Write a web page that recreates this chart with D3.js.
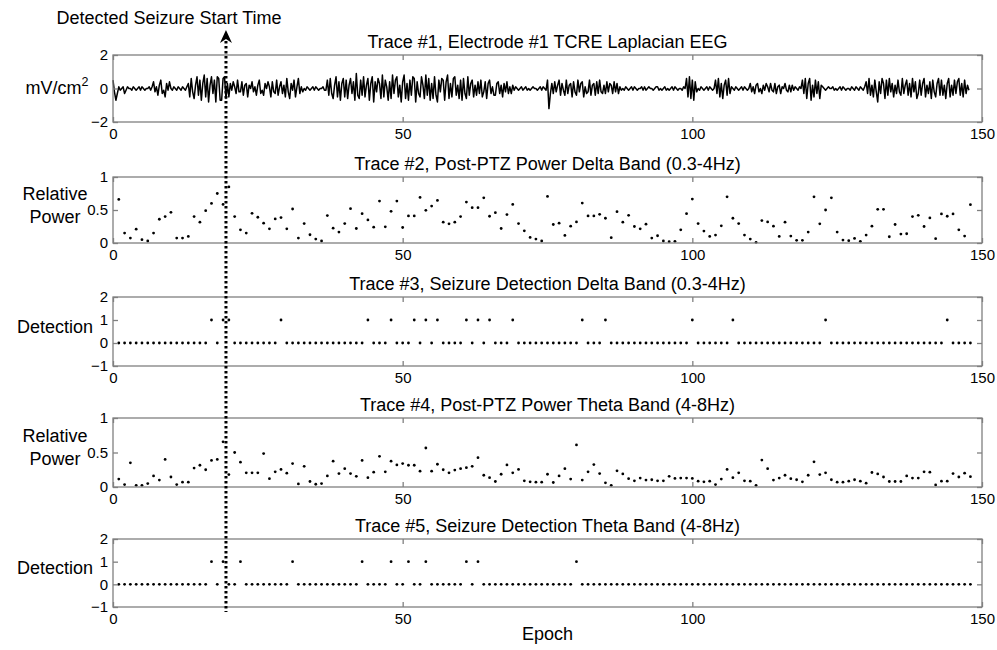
<!DOCTYPE html>
<html lang="en">

<head>
    <meta charset="UTF-8">
    <title>Seizure detection traces</title>
    <script src="https://d3js.org/d3.v7.min.js"></script>
    <style>
        body { margin: 0; background: #fff; }
        text { font-family: Arial, "Liberation Sans", sans-serif; fill: #000; }
    </style>
</head>

<body>
    <div id="chart"></div>
    <script>

        // x axis (epochs) and the detected onset
        const xDomain = [0, 150];
        const xTicks = [0, 50, 100, 150];
        const seizureStart = 19.5;

        // Trace #1: Laplacian EEG, 4 samples per epoch (mV/cm^2), epochs 0..147
        const eegValues = [
            0.5,-0.2,-0.7,-0.3, 0.1,-0.1,0.0,0.1, -0.3,-0.1,0.1,0.0, 0.0,-0.1,0.1,0.0, -0.1,0.0,0.1,-0.1,
            0.1,0.0,-0.1,0.0, 0.0,0.1,-0.1,0.1, 0.4,-0.2,0.1,-0.4, 0.2,0.5,-0.3,-0.1, -0.5,0.3,-0.1,0.4,
            0.0,-0.1,0.1,0.0, -0.1,0.1,0.0,-0.1, 0.1,0.0,-0.1,0.1, 0.3,-0.5,0.6,-0.2, -0.6,0.2,0.7,-0.4,
            0.5,-0.7,0.3,0.8, -0.5,0.6,-0.8,0.2, 0.7,-0.3,0.5,-0.8, 0.7,0.6,-0.7,-0.7, 0.6,0.7,-0.6,0.3,
            -0.5,0.3,-0.1,0.4, 0.1,-0.3,0.5,-0.2, -0.2,0.4,-0.4,0.2, 0.3,-0.5,0.2,0.0, 0.4,-0.2,0.1,-0.4,
            0.2,0.5,-0.3,-0.1, -0.4,0.3,0.0,0.4, 0.1,-0.5,0.4,-0.2, -0.3,0.5,-0.4,0.1, 0.4,-0.3,0.2,-0.5,
            0.6,-0.2,-0.6,0.3, -0.1,0.5,-0.5,0.1, 0.6,-0.3,0.1,-0.2, 0.0,-0.1,0.1,0.0, -0.1,0.0,0.1,-0.1,
            0.1,0.0,-0.1,0.0, 0.0,0.1,-0.1,-0.1, 0.5,-0.4,0.6,-0.3, -0.6,0.2,0.7,-0.5, 0.4,-0.7,0.3,0.6,
            -0.5,0.5,-0.6,0.2, 0.6,-0.3,0.4,-0.7, 0.9,-0.4,-0.6,0.5, -0.4,0.7,-0.5,0.2, 0.6,-0.7,0.3,0.7,
            -0.8,0.4,-0.2,0.6, 0.3,-0.6,0.8,-0.5, 0.5,0.1,-0.7,0.4, -0.6,0.8,-0.3,0.5, 0.7,-0.5,0.2,-0.8,
            0.4,0.8,-0.6,0.3, -0.7,0.5,-0.4,0.7, 0.6,-0.8,0.4,-0.3, -0.5,0.7,0.2,-0.6, 0.8,-0.4,0.6,-0.7,
            0.3,-0.6,0.7,-0.4, -0.8,0.5,-0.2,0.6, 0.5,-0.7,0.4,0.8, -0.6,0.3,-0.5,0.6, 0.7,-0.4,0.2,-0.6,
            0.5,-0.7,0.6,-0.3, -0.6,0.7,-0.4,0.3, 0.5,-0.5,0.2,-0.4, 0.4,-0.3,0.5,-0.5, -0.2,0.4,-0.6,0.3,
            0.5,-0.3,0.1,-0.4, -0.4,0.3,0.4,-0.3, 0.2,-0.5,0.3,-0.2, 0.4,-0.3,0.1,-0.3, 0.2,-0.1,0.1,0.0,
            -0.1,0.0,0.1,-0.1, 0.0,0.1,-0.1,0.0, -0.1,0.0,0.1,0.0, 0.0,-0.1,0.0,0.1, -0.1,0.1,0.0,-0.1,
            0.5,-1.2,-0.3,0.3, -0.3,0.4,-0.2,0.2, 0.5,-0.4,0.3,-0.1, -0.4,0.5,-0.3,0.2, 0.3,-0.5,0.4,-0.2,
            -0.4,0.5,-0.2,0.3, 0.4,-0.5,0.1,-0.3, -0.2,0.5,-0.4,0.2, 0.3,-0.4,0.4,-0.3, 0.5,-0.2,-0.3,0.2,
            -0.3,0.4,-0.2,0.3, 0.2,-0.3,0.4,-0.2, 0.3,-0.3,0.1,-0.1, 0.0,-0.1,0.1,0.0, -0.1,0.0,0.1,-0.1,
            0.1,0.0,-0.1,0.0, 0.0,0.1,-0.1,0.1, -0.1,0.0,0.1,0.0, 0.0,-0.1,0.0,0.1, 0.1,-0.1,0.0,-0.1,
            0.0,0.1,-0.1,0.0, -0.1,0.0,0.1,-0.1, 0.1,0.0,-0.1,0.0, 0.0,-0.1,0.1,0.0, 0.6,-0.5,0.7,-0.6,
            0.5,-0.7,0.4,-0.2, 0.0,-0.1,0.1,0.0, -0.1,0.0,0.1,-0.1, 0.1,0.0,-0.1,0.0, 0.5,-0.3,0.6,-0.5,
            0.3,-0.6,0.2,0.5, -0.4,0.6,-0.3,0.1, 0.0,-0.1,0.1,0.0, -0.1,0.0,0.1,-0.1, 0.1,0.0,-0.1,0.0,
            0.3,-0.2,0.1,-0.3, 0.2,0.3,-0.2,0.0, -0.3,0.2,-0.1,0.3, 0.1,-0.2,0.3,-0.1, -0.2,0.3,-0.3,0.1,
            0.2,-0.3,0.1,0.0, 0.3,-0.1,-0.2,0.2, -0.2,0.2,-0.1,0.1, 0.0,-0.1,0.1,0.0, 0.5,-0.3,0.6,-0.6,
            0.3,0.6,-0.7,0.2, -0.5,0.5,-0.3,0.4, -0.6,0.2,0.1,0.0, -0.1,0.0,0.1,0.0, 0.0,0.1,-0.1,0.0,
            -0.1,0.0,0.1,-0.1, 0.1,0.0,-0.1,0.0, 0.0,-0.1,0.1,0.0, -0.1,0.1,0.0,-0.1, 0.1,0.0,-0.1,0.1,
            0.4,-0.3,0.6,-0.4, 0.2,-0.5,0.5,-0.2, -0.8,0.4,-0.3,0.6, 0.3,-0.6,0.5,-0.4, 0.6,-0.2,0.3,-0.5,
            0.2,-0.3,0.5,-0.2, -0.4,0.6,-0.3,0.2, 0.5,-0.4,0.3,-0.5, 0.6,-0.2,0.4,-0.6, -0.3,0.5,-0.4,0.3,
            0.6,-0.5,0.2,-0.3, 0.4,-0.6,0.5,-0.2, -0.5,0.3,0.6,-0.4, 0.5,-0.4,0.2,-0.6, 0.3,0.6,-0.5,0.2,
            -0.4,0.5,-0.3,0.4, 0.6,-0.4,0.3,-0.5, 0.5,-0.3,0.2,-0.1
        ];

        // Trace #2: relative delta power, epochs 1..148
        const deltaPower = [
            0.66, 0.15, 0.075, 0.21, 0.05, 0.03, 0.15, 0.36, 0.40, 0.465,
            0.075, 0.075, 0.10, 0.40, 0.315, 0.49, 0.60, 0.75, 0.585, 0.85,
            0.40, 0.20, 0.15, 0.45, 0.39, 0.30, 0.215, 0.365, 0.385, 0.215,
            0.515, 0.075, 0.295, 0.125, 0.06, 0.03, 0.415, 0.225, 0.165, 0.295,
            0.52, 0.22, 0.445, 0.35, 0.24, 0.635, 0.245, 0.48, 0.635, 0.235,
            0.41, 0.41, 0.69, 0.495, 0.56, 0.645, 0.315, 0.29, 0.315, 0.40,
            0.62, 0.535, 0.535, 0.685, 0.405, 0.46, 0.22, 0.43, 0.585, 0.295,
            0.185, 0.085, 0.06, 0.03, 0.705, 0.28, 0.30, 0.115, 0.255, 0.32,
            0.605, 0.41, 0.41, 0.435, 0.375, 0.08, 0.475, 0.315, 0.42, 0.25,
            0.215, 0.285, 0.075, 0.11, 0.03, 0.02, 0.025, 0.20, 0.445, 0.665,
            0.295, 0.18, 0.10, 0.12, 0.26, 0.70, 0.375, 0.295, 0.12, 0.06,
            0.01, 0.34, 0.32, 0.255, 0.10, 0.315, 0.105, 0.04, 0.04, 0.165,
            0.70, 0.29, 0.50, 0.685, 0.165, 0.045, 0.035, 0.07, 0.025, 0.12,
            0.255, 0.51, 0.51, 0.095, 0.28, 0.135, 0.14, 0.40, 0.42, 0.25,
            0.38, 0.065, 0.44, 0.405, 0.44, 0.20, 0.105, 0.58
        ];

        // Trace #4: relative theta power, epochs 1..148
        const thetaPower = [
            0.115, 0.035, 0.35, 0.025, 0.025, 0.05, 0.16, 0.10, 0.40, 0.145,
            0.035, 0.07, 0.07, 0.275, 0.315, 0.25, 0.385, 0.40, 0.655, 0.18,
            0.50, 0.36, 0.205, 0.205, 0.205, 0.485, 0.12, 0.22, 0.255, 0.20,
            0.34, 0.045, 0.30, 0.08, 0.04, 0.05, 0.16, 0.375, 0.195, 0.265,
            0.195, 0.155, 0.385, 0.135, 0.215, 0.445, 0.22, 0.375, 0.32, 0.34,
            0.315, 0.315, 0.23, 0.565, 0.23, 0.33, 0.25, 0.205, 0.245, 0.265,
            0.28, 0.30, 0.425, 0.17, 0.135, 0.08, 0.185, 0.32, 0.205, 0.255,
            0.09, 0.075, 0.07, 0.07, 0.185, 0.065, 0.16, 0.265, 0.115, 0.61,
            0.10, 0.22, 0.325, 0.195, 0.06, 0.025, 0.235, 0.19, 0.12, 0.09,
            0.13, 0.10, 0.105, 0.09, 0.09, 0.155, 0.125, 0.13, 0.13, 0.125,
            0.085, 0.075, 0.085, 0.035, 0.115, 0.255, 0.135, 0.205, 0.09, 0.085,
            0.025, 0.39, 0.265, 0.10, 0.13, 0.17, 0.12, 0.105, 0.075, 0.17,
            0.365, 0.18, 0.205, 0.105, 0.07, 0.07, 0.085, 0.105, 0.085, 0.055,
            0.21, 0.19, 0.145, 0.08, 0.08, 0.08, 0.16, 0.13, 0.13, 0.22,
            0.215, 0.03, 0.085, 0.085, 0.195, 0.145, 0.20, 0.15
        ];

        // Traces #3 and #5: epochs flagged as seizure (all other epochs are 0)
        const deltaDetected = [17, 19, 20, 29, 44, 48, 52, 54, 56, 61, 63, 65, 69, 81, 85, 100, 107, 123, 144];
        const thetaDetected = [17, 19, 22, 31, 43, 48, 51, 54, 61, 63, 80];

        const titles = [
            "Trace #1, Electrode #1 TCRE Laplacian EEG",
            "Trace #2, Post-PTZ Power Delta Band (0.3-4Hz)",
            "Trace #3, Seizure Detection Delta Band (0.3-4Hz)",
            "Trace #4, Post-PTZ Power Theta Band (4-8Hz)",
            "Trace #5, Seizure Detection Theta Band (4-8Hz)"
        ];

        const width = 997, height = 650;
        const boxColor = "#808080";

        const x = d3.scaleLinear().domain(xDomain).range([113, 982]);

        const svg = d3.select("#chart")
            .append("svg")
            .attr("width", width)
            .attr("height", height);

        // epochs 1..148 to go with the per-epoch arrays
        const epochs = deltaPower.map((v, i) => i + 1);
        const detection = list => epochs.map(e => ({ e: e, v: list.includes(e) ? 1 : 0 }));

        const panels = [
            { top: 55, bottom: 122, domain: [-2, 2], ticks: [-2, 0, 2], label: "eeg" },
            { top: 177, bottom: 243, domain: [0, 1], ticks: [0, 0.5, 1], label: ["Relative", "Power"],
              points: deltaPower.map((v, i) => ({ e: i + 1, v: v })) },
            { top: 297, bottom: 366, domain: [-1, 2], ticks: [-1, 0, 1, 2], label: ["Detection"],
              points: detection(deltaDetected) },
            { top: 418, bottom: 487, domain: [0, 1], ticks: [0, 0.5, 1], label: ["Relative", "Power"],
              points: thetaPower.map((v, i) => ({ e: i + 1, v: v })) },
            { top: 539, bottom: 607, domain: [-1, 2], ticks: [-1, 0, 1, 2], label: ["Detection"],
              points: detection(thetaDetected) }
        ];

        panels.forEach(function (p, k) {
            const y = d3.scaleLinear().domain(p.domain).range([p.bottom, p.top]);
            const g = svg.append("g");

            // data
            if (p.label === "eeg") {
                const line = d3.line()
                    .x((d, i) => x(i / 4))
                    .y(d => y(d));
                g.append("path")
                    .datum(eegValues)
                    .attr("d", line)
                    .attr("fill", "none")
                    .attr("stroke", "#000")
                    .attr("stroke-width", 1.5)
                    .attr("stroke-linejoin", "round");
            } else {
                g.selectAll("circle")
                    .data(p.points)
                    .join("circle")
                    .attr("cx", d => x(d.e))
                    .attr("cy", d => y(d.v))
                    .attr("r", 1.4)
                    .attr("fill", "#000");
            }

            // box
            g.append("rect")
                .attr("x", x(xDomain[0]))
                .attr("y", p.top)
                .attr("width", x(xDomain[1]) - x(xDomain[0]))
                .attr("height", p.bottom - p.top)
                .attr("fill", "none")
                .attr("stroke", boxColor)
                .attr("stroke-width", 1.3);

            // axes with inward ticks (MATLAB style)
            const bottomAxis = g.append("g")
                .attr("transform", `translate(0,${p.bottom})`)
                .call(d3.axisBottom(x).tickValues(xTicks).tickSize(-5).tickPadding(6));
            const topAxis = g.append("g")
                .attr("transform", `translate(0,${p.top})`)
                .call(d3.axisTop(x).tickValues(xTicks).tickSize(-5).tickFormat(""));
            const leftAxis = g.append("g")
                .attr("transform", `translate(${x(xDomain[0])},0)`)
                .call(d3.axisLeft(y).tickValues(p.ticks).tickSize(-5).tickPadding(5)
                    .tickFormat(d3.format("")));
            const rightAxis = g.append("g")
                .attr("transform", `translate(${x(xDomain[1])},0)`)
                .call(d3.axisRight(y).tickValues(p.ticks).tickSize(-5).tickFormat(""));

            [bottomAxis, topAxis, leftAxis, rightAxis].forEach(a => {
                a.select(".domain").remove();
                a.selectAll("line").attr("stroke", boxColor).attr("stroke-width", 1.3);
                a.selectAll("text")
                    .attr("font-size", 15)
                    .attr("font-family", "Arial, 'Liberation Sans', sans-serif")
                    .attr("fill", "#000");
            });

            // title
            svg.append("text")
                .attr("x", (x(xDomain[0]) + x(xDomain[1])) / 2)
                .attr("y", p.top - 7)
                .attr("text-anchor", "middle")
                .attr("font-size", 18)
                .text(titles[k]);

            // y label
            const cy = (p.top + p.bottom) / 2;
            if (p.label === "eeg") {
                const t = svg.append("text")
                    .attr("x", 57)
                    .attr("y", cy + 5)
                    .attr("text-anchor", "middle")
                    .attr("font-size", 18);
                t.append("tspan").text("mV/cm");
                t.append("tspan").attr("dy", -8).attr("font-size", 12.5).text("2");
            } else {
                const n = p.label.length;
                p.label.forEach((s, j) => {
                    svg.append("text")
                        .attr("x", 55)
                        .attr("y", cy + 1 + (j - (n - 1) / 2) * 23)
                        .attr("text-anchor", "middle")
                        .attr("font-size", 18)
                        .text(s);
                });
            }
        });

        // x label
        svg.append("text")
            .attr("x", (x(xDomain[0]) + x(xDomain[1])) / 2)
            .attr("y", 640)
            .attr("text-anchor", "middle")
            .attr("font-size", 18)
            .text("Epoch");

        // detected seizure start marker
        const xs = x(seizureStart);
        svg.append("line")
            .attr("x1", xs).attr("x2", xs)
            .attr("y1", 36).attr("y2", 612)
            .attr("stroke", "#000")
            .attr("stroke-width", 3)
            .attr("stroke-dasharray", "2.5,2.5");
        svg.append("path")
            .attr("d", `M${xs - 6},${43} L${xs},${30} L${xs + 6},${43} L${xs},${39} Z`)
            .attr("fill", "#000");
        svg.append("text")
            .attr("x", 169)
            .attr("y", 24)
            .attr("text-anchor", "middle")
            .attr("font-size", 18)
            .text("Detected Seizure Start Time");

    </script>
</body>

</html>
